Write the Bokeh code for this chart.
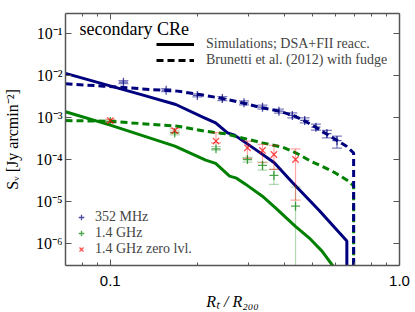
from bokeh.plotting import figure
from bokeh.models import (Range1d, FixedTicker, LogAxis, CustomJSTickFormatter,
                          PrintfTickFormatter, Legend, LegendItem, Label)
from bokeh.embed import file_html
from bokeh.resources import INLINE

# ---------------- data ----------------
# simulations (DSA+FII reacc.), solid lines
sim_x_352 = [0.07, 0.1298, 0.1685, 0.2088, 0.2313, 0.2543, 0.269, 0.3303, 0.369,
             0.4255, 0.5268, 0.6576, 0.6576]
sim_y_352 = [1.10e-2, 3.34e-3, 2.00e-3, 1.0e-3, 7.32e-4, 4.23e-4, 3.73e-4, 1.41e-4,
             8.17e-5, 2.83e-5, 6.1e-6, 1.12e-6, 1e-9]
sim_x_14 = [0.07, 0.1, 0.1672, 0.2137, 0.2313, 0.2585, 0.2732, 0.2934, 0.3356, 0.3718,
            0.4356, 0.4867, 0.5395, 0.593]
sim_y_14 = [1.34e-3, 6.45e-4, 2.04e-4, 9.46e-5, 7.9e-5, 3.94e-5, 3.53e-5, 2.54e-5,
            1.31e-5, 7.0e-6, 2.54e-6, 1.34e-6, 6.45e-7, 2.68e-7]

# Brunetti et al. (2012) with fudge, dashed lines
bru_x_352 = [0.07, 0.0946, 0.1369, 0.171, 0.203, 0.244, 0.286, 0.336, 0.383, 0.426,
             0.467, 0.512, 0.561, 0.608, 0.658, 0.694, 0.694]
bru_y_352 = [6.2e-3, 5.47e-3, 4.57e-3, 4.16e-3, 3.47e-3, 2.79e-3, 2.19e-3, 1.66e-3,
             1.39e-3, 1.12e-3, 8.3e-4, 5.8e-4, 3.9e-4, 2.8e-4, 2.0e-4, 1.4e-4, 1e-9]
bru_x_14 = [0.07, 0.098, 0.171, 0.214, 0.251, 0.286, 0.336, 0.394, 0.426, 0.449,
            0.492, 0.539, 0.60, 0.667, 0.694, 0.694]
bru_y_14 = [8.3e-4, 8.0e-4, 6.1e-4, 4.6e-4, 4.0e-4, 3.2e-4, 2.44e-4, 1.93e-4, 1.55e-4,
            1.29e-4, 9.0e-5, 6.8e-5, 4.7e-5, 3.0e-5, 2.3e-5, 1e-9]

# observations 352 MHz
obs_x_352 = [0.111, 0.156, 0.200, 0.244, 0.290, 0.336, 0.383, 0.426, 0.470, 0.514, 0.561, 0.608]
obs_y_352 = [6.81e-3, 4.39e-3, 3.29e-3, 2.76e-3, 2.19e-3, 1.73e-3, 1.39e-3, 1.10e-3,
             8.34e-4, 5.78e-4, 4.05e-4, 2.75e-4]
obs_hi_352 = [7.39e-3, 4.77e-3, 3.57e-3, 3.08e-3, 2.44e-3, 1.93e-3, 1.55e-3, 1.26e-3,
              9.6e-4, 6.81e-4, 4.82e-4, 3.53e-4]
obs_lo_352 = [6.28e-3, 4.05e-3, 3.03e-3, 2.47e-3, 1.96e-3, 1.55e-3, 1.25e-3, 9.6e-4,
              7.28e-4, 4.9e-4, 3.21e-4, 1.83e-4]

# observations 1.4 GHz
obs_x_14 = [0.100, 0.167, 0.232, 0.298, 0.336, 0.368, 0.437]
obs_y_14 = [7.9e-4, 4.2e-4, 1.76e-4, 9.8e-5, 7.1e-5, 4.1e-5, 7.6e-6]
obs_hi_14 = [8.6e-4, 4.7e-4, 2.0e-4, 1.1e-4, 8.5e-5, 5.7e-5, 2.15e-5]
obs_lo_14 = [7.3e-4, 3.8e-4, 1.64e-4, 8.5e-5, 5.5e-5, 2.5e-5, 1e-9]

# observations 1.4 GHz zero level
obs_y_14z = [8.3e-4, 4.8e-4, 2.69e-4, 1.86e-4, 1.61e-4, 1.29e-4, 9.8e-5]
obs_hi_14z = [9.0e-4, 5.3e-4, 4.3e-4, 2.69e-4, 2.24e-4, 2.12e-4, 1.76e-4]
obs_lo_14z = [7.6e-4, 4.3e-4, 2.44e-4, 1.04e-4, 8.2e-5, 5.7e-5, 1.06e-5]

x_major = [0.1, 1.0]
x_minor = [0.08, 0.09, 0.2, 0.3, 0.4, 0.5, 0.6, 0.7, 0.8, 0.9]
y_major = [1e-6, 1e-5, 1e-4, 1e-3, 1e-2, 1e-1]

BLUE = "#00007f"
GREEN = "#008000"
RED = "#ff0000"
SERIF = "Liberation Serif"

p = figure(width=415, height=312, x_axis_type="log", y_axis_type="log",
           x_range=Range1d(0.07, 1.0), y_range=Range1d(2.94e-7, 0.293),
           output_backend="svg", toolbar_location=None,
           min_border_left=62, min_border_right=16, min_border_top=13, min_border_bottom=47)
p.grid.visible = False
p.outline_line_color = None
p.background_fill_color = "white"
p.border_fill_color = "white"

xt = FixedTicker(ticks=x_major, minor_ticks=x_minor)
yt = FixedTicker(ticks=y_major, minor_ticks=[])
sup_js = """
const e = Math.round(Math.log10(tick));
const m = {"-":"\u207b","0":"\u2070","1":"\u00b9","2":"\u00b2","3":"\u00b3","4":"\u2074",
           "5":"\u2075","6":"\u2076","7":"\u2077","8":"\u2078","9":"\u2079"};
return "10" + String(e).split("").map(c => m[c]).join("");
"""

def style_axis(ax):
    ax.axis_line_color = "#555555"
    ax.axis_line_width = 1.5
    ax.major_tick_line_color = "#555555"
    ax.minor_tick_line_color = "#555555"
    ax.major_tick_line_width = 1
    ax.minor_tick_line_width = 1
    ax.major_tick_in = 6
    ax.major_tick_out = 0
    ax.minor_tick_in = 3
    ax.minor_tick_out = 0

xa = p.xaxis[0]
style_axis(xa)
xa.ticker = xt
xa.formatter = PrintfTickFormatter(format="%.1f")
xa.major_label_text_font = "Liberation Sans"
xa.major_label_text_font_size = "15px"
xa.major_label_standoff = 10
xa.major_label_text_color = "black"
xa.axis_label = "R\u209c / R\u2082\u2080\u2080"
xa.axis_label_text_font = SERIF
xa.axis_label_text_font_size = "16px"
xa.axis_label_text_font_style = "italic"
xa.axis_label_standoff = 4
xa.axis_label_text_color = "black"

ya = p.yaxis[0]
style_axis(ya)
ya.ticker = yt
ya.formatter = CustomJSTickFormatter(code=sup_js)
ya.major_label_text_font = SERIF
ya.major_label_text_font_size = "16px"
ya.major_label_standoff = 3
ya.major_label_text_color = "black"
ya.axis_label = "S\u1d65 [Jy arcmin\u207b\u00b2]"
ya.axis_label_text_font = SERIF
ya.axis_label_text_font_size = "16px"
ya.axis_label_text_font_style = "normal"
ya.axis_label_standoff = 12
ya.axis_label_text_color = "black"

top = LogAxis(ticker=FixedTicker(ticks=x_major, minor_ticks=x_minor),
              formatter=CustomJSTickFormatter(code="return '';"))
right = LogAxis(ticker=FixedTicker(ticks=y_major, minor_ticks=[]),
                formatter=CustomJSTickFormatter(code="return '';"))
for ax in (top, right):
    style_axis(ax)
    ax.major_label_text_font_size = "2px"
    ax.major_label_standoff = 0
p.add_layout(top, "above")
p.add_layout(right, "right")

# ---- model curves ----
p.line(sim_x_14, sim_y_14, color=GREEN, line_width=3)
p.line(sim_x_352, sim_y_352, color=BLUE, line_width=3)
p.line(bru_x_14, bru_y_14, color=GREEN, line_width=3, line_dash="7 4")
p.line(bru_x_352, bru_y_352, color=BLUE, line_width=3, line_dash="7 4")

# ---- error bars ----
def errbars(x, lo, hi, color, alpha):
    p.segment(x0=x, y0=lo, x1=x, y1=hi, line_color=color, line_alpha=alpha, line_width=1.2)
    p.scatter(x=x, y=lo, marker="dash", size=10, line_color=color, line_alpha=alpha, line_width=1.2)
    p.scatter(x=x, y=hi, marker="dash", size=10, line_color=color, line_alpha=alpha, line_width=1.2)

errbars(obs_x_352, obs_lo_352, obs_hi_352, BLUE, 0.5)
errbars(obs_x_14, obs_lo_14, obs_hi_14, GREEN, 0.3)
errbars(obs_x_14, obs_lo_14z, obs_hi_14z, RED, 0.35)

r352 = p.scatter(obs_x_352, obs_y_352, marker="cross", size=9, line_color=BLUE,
                 line_alpha=0.7, line_width=1.3)
r14 = p.scatter(obs_x_14, obs_y_14, marker="cross", size=9, line_color=GREEN,
                line_alpha=0.7, line_width=1.3)
r14z = p.scatter(obs_x_14, obs_y_14z, marker="x", size=9, line_color=RED,
                 line_alpha=0.7, line_width=1.3)

# ---- legends ----
d_solid = p.line(x=[1.0], y=[1.0], color="black", line_width=3)
d_dash = p.line(x=[1.0], y=[1.0], color="black", line_width=3, line_dash="7 4")
leg1 = Legend(items=[LegendItem(label="Simulations; DSA+FII reacc.", renderers=[d_solid]),
                     LegendItem(label="Brunetti et al. (2012) with fudge", renderers=[d_dash])],
              location=(91, 197), padding=0, margin=0, spacing=0,
              glyph_width=38, glyph_height=16, label_height=16, label_standoff=12,
              label_text_font=SERIF, label_text_font_size="14px",
              border_line_alpha=0, background_fill_alpha=0)
leg2 = Legend(items=[LegendItem(label="352 MHz", renderers=[r352]),
                     LegendItem(label="1.4 GHz", renderers=[r14]),
                     LegendItem(label="1.4 GHz zero lvl.", renderers=[r14z])],
              location=(8, 8), padding=0, margin=0, spacing=0,
              glyph_width=16, glyph_height=14, label_height=14, label_standoff=6,
              label_text_font=SERIF, label_text_font_size="14px",
              border_line_alpha=0, background_fill_alpha=0)
p.add_layout(leg1, "center")
p.add_layout(leg2, "center")

p.add_layout(Label(x=14, y=236.5, x_units="screen", y_units="screen", text="secondary CRe",
                   text_font=SERIF, text_font_size="18px", text_color="black",
                   text_align="left", text_baseline="alphabetic"))

open("out.html", "w").write(file_html(p, INLINE))
